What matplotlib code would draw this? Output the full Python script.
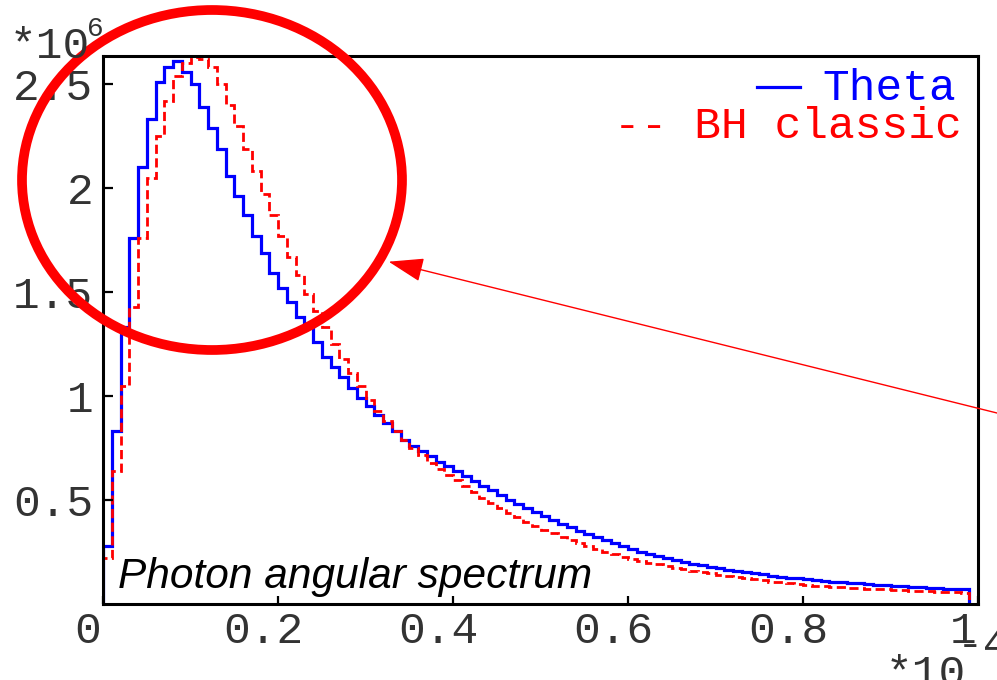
import numpy as np
import matplotlib.pyplot as plt
from matplotlib.patches import Ellipse, FancyArrowPatch
from matplotlib.lines import Line2D
from matplotlib.transforms import ScaledTranslation

W, H = 997, 680

# histogram binning, x in units of 1e-4 (99 bins of 0.01)
bin_edges = np.round(np.arange(0, 0.995, 0.01), 2)

# counts in units of 1e6
theta = [
    0.28, 0.83, 1.33, 1.76, 2.10, 2.33, 2.51, 2.58, 2.61, 2.56,
    2.50, 2.39, 2.29, 2.19, 2.06, 1.96, 1.87, 1.77, 1.69, 1.59,
    1.52, 1.45, 1.38, 1.33, 1.26, 1.19, 1.14, 1.09, 1.04, 0.99,
    0.95, 0.91, 0.87, 0.83, 0.79, 0.76, 0.735, 0.71, 0.685, 0.662,
    0.640, 0.616, 0.592, 0.569, 0.546, 0.524, 0.502, 0.481, 0.461, 0.441,
    0.422, 0.404, 0.386, 0.369, 0.353, 0.337, 0.321, 0.306, 0.291, 0.277,
    0.263, 0.251, 0.240, 0.230, 0.220, 0.211, 0.202, 0.194, 0.186, 0.179,
    0.172, 0.165, 0.159, 0.153, 0.147, 0.142, 0.137, 0.132, 0.127, 0.123,
    0.119, 0.115, 0.111, 0.108, 0.105, 0.102, 0.099, 0.096, 0.093, 0.090,
    0.088, 0.085, 0.083, 0.081, 0.078, 0.076, 0.074, 0.072, 0.070]

bh_classic = [
    0.22, 0.64, 1.05, 1.43, 1.76, 2.05, 2.25, 2.42, 2.54, 2.60,
    2.63, 2.62, 2.58, 2.50, 2.40, 2.30, 2.19, 2.08, 1.97, 1.87,
    1.77, 1.67, 1.58, 1.49, 1.41, 1.33, 1.25, 1.18, 1.11, 1.05,
    0.98, 0.93, 0.88, 0.83, 0.79, 0.75, 0.715, 0.68, 0.65, 0.62,
    0.595, 0.566, 0.538, 0.511, 0.486, 0.462, 0.439, 0.417, 0.396, 0.377,
    0.358, 0.340, 0.323, 0.307, 0.292, 0.278, 0.264, 0.251, 0.239, 0.227,
    0.216, 0.207, 0.198, 0.190, 0.182, 0.174, 0.167, 0.160, 0.153, 0.147,
    0.140, 0.134, 0.129, 0.123, 0.118, 0.113, 0.108, 0.104, 0.099, 0.095,
    0.091, 0.0885, 0.086, 0.0835, 0.081, 0.079, 0.0765, 0.0745, 0.0725, 0.070,
    0.068, 0.066, 0.0645, 0.0625, 0.061, 0.059, 0.0575, 0.056, 0.054]

xticks = [0, 0.2, 0.4, 0.6, 0.8, 1]
xticklabels = ["0", "0.2", "0.4", "0.6", "0.8", "1"]
yticks = [0.5, 1, 1.5, 2, 2.5]
yticklabels = ["0.5", "1", "1.5", "2", "2.5"]

mono = "Liberation Mono"
fs = 32
grey = "#333333"


def fpos(x, y):
    # pixel position (from top-left) -> figure fraction
    return x / W, 1 - y / H


fig = plt.figure(figsize=(W / 100, H / 100), dpi=100)
l, b = fpos(103, 604)
r, t = fpos(978, 56)
ax = fig.add_axes([l, b, r - l, t - b])

ax.stairs(theta, bin_edges, baseline=0, color="#0000ff", lw=2.3)
ax.stairs(bh_classic, bin_edges, baseline=0, color="#ff0000", lw=2.0,
          linestyle=(0, (3.3, 1.6)))

ax.set_xlim(0, 1)
ax.set_ylim(0, 2.635)
for s in ax.spines.values():
    s.set_linewidth(2.2)
ax.set_xticks(xticks)
ax.set_xticklabels(xticklabels, fontfamily=mono, fontsize=fs, color=grey)
ax.set_yticks(yticks)
ax.set_yticklabels(yticklabels, fontfamily=mono, fontsize=fs, color=grey)
ax.tick_params(axis="x", direction="in", length=6, width=1.6, pad=5)
ax.tick_params(axis="y", direction="in", length=7, width=1.6, pad=7)
shift = ScaledTranslation(-15 / 100, 0, fig.dpi_scale_trans)
for lab in ax.get_xticklabels():
    lab.set_transform(lab.get_transform() + shift)

# exponent labels
fig.text(*fpos(10, 58), "*10", fontfamily=mono, fontsize=fs, color=grey)
fig.text(*fpos(87, 36), "6", fontfamily=mono, fontsize=20, color=grey)
fig.text(*fpos(886, 686), "*10", fontfamily=mono, fontsize=fs, color=grey)
fig.text(*fpos(957, 657), "-4", fontfamily=mono, fontsize=fs, color=grey)

# legend
fig.text(*fpos(956, 100), "Theta", fontfamily=mono, fontsize=fs,
         color="#0000ff", ha="right")
fig.add_artist(Line2D([757 / W, 800 / W], [1 - 87 / H] * 2, color="#0000ff",
                      lw=2.3, transform=fig.transFigure))
fig.text(*fpos(962, 138), "-- BH classic", fontfamily=mono, fontsize=fs,
         color="#ff0000", ha="right")

ax.text(0.017, 0.03, "Photon angular spectrum", transform=ax.transAxes,
        fontfamily="Liberation Sans", fontstyle="italic", fontsize=30.5)

# red annotation circle + arrow
fig.add_artist(Ellipse(fpos(212, 180), 380 / W, 340 / H, fill=False,
                       edgecolor="#ff0000", lw=7, transform=fig.transFigure))
fig.add_artist(FancyArrowPatch(fpos(1005, 415), fpos(386, 261),
                               transform=fig.transFigure, color="#ff0000",
                               lw=1.0, mutation_scale=1,
                               arrowstyle="-|>,head_length=22,head_width=7.5"))

fig.savefig("out.png", dpi=100)
